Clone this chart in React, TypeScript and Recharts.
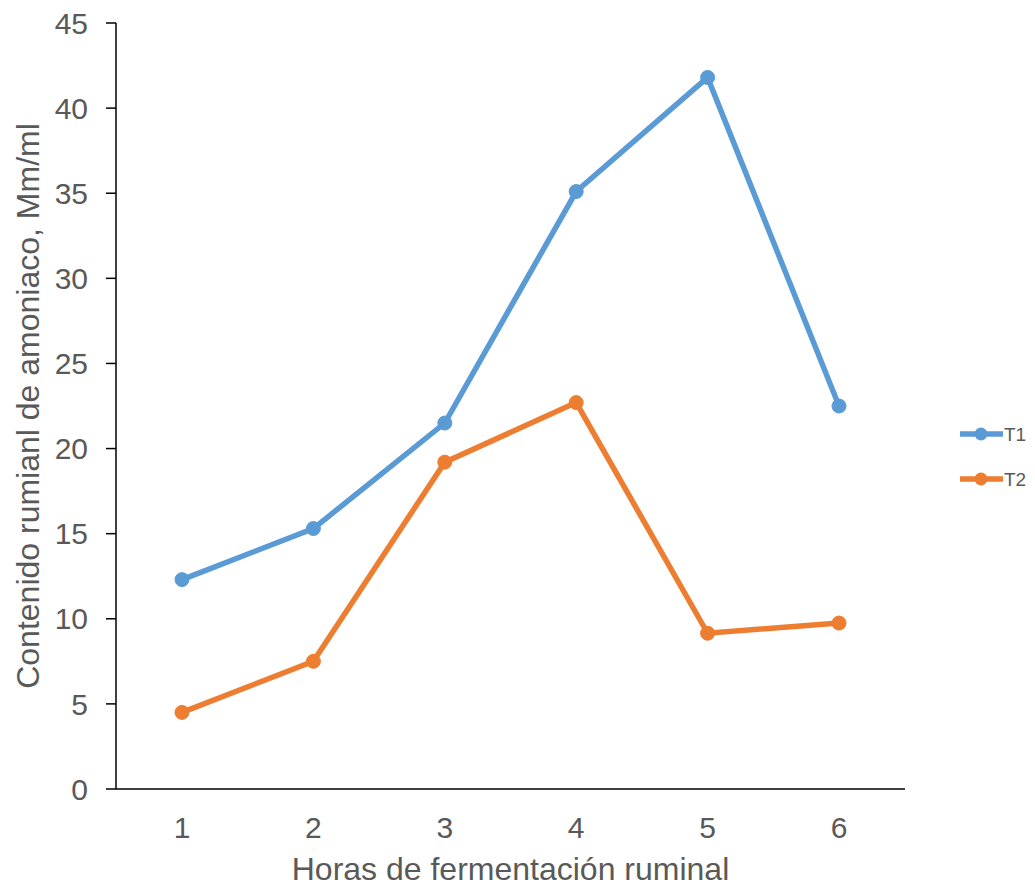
import { Line, LineChart, XAxis, YAxis } from "recharts";

const HORAS = ["1", "2", "3", "4", "5", "6"];
const T1 = [12.3, 15.3, 21.5, 35.1, 41.8, 22.5];
const T2 = [4.5, 7.5, 19.2, 22.7, 9.15, 9.75];
const Y_TICKS = [0, 5, 10, 15, 20, 25, 30, 35, 40, 45];

const BLUE = "#5B9BD5";
const ORANGE = "#ED7D31";
const TEXT = "#595959";
const FONT = "'Liberation Sans', Arial, sans-serif";

const data = HORAS.map((h, i) => ({ hora: h, T1: T1[i], T2: T2[i] }));

const SERIES = [
  { key: "T1", color: BLUE },
  { key: "T2", color: ORANGE },
];

function LegendBox() {
  return (
    <svg width={84} height={70} style={{ position: "absolute", left: 952, top: 414 }}>
      {SERIES.map((s, i) => (
        <g key={s.key} transform={`translate(0, ${12 + i * 45})`}>
          <line x1={0} x2={43} y1={0} y2={0} stroke={s.color} strokeWidth={5.5} />
          <circle cx={21} cy={0} r={6.5} fill={s.color} />
          <text x={44} y={7} fontSize={19} fill={TEXT} fontFamily={FONT}>
            {s.key}
          </text>
        </g>
      ))}
    </svg>
  );
}

type VB = { x: number; y: number; width: number; height: number };

function YTitle({ viewBox }: { viewBox?: VB }) {
  if (!viewBox) return null;
  const cx = viewBox.x + 20;
  const cy = viewBox.y + viewBox.height / 2;
  return (
    <text
      x={cx}
      y={cy}
      transform={`rotate(-90, ${cx}, ${cy})`}
      textAnchor="middle"
      dominantBaseline="central"
      fontSize={32}
      fill={TEXT}
      fontFamily={FONT}
    >
      Contenido rumianl de amoniaco, Mm/ml
    </text>
  );
}

function XTitle({ viewBox }: { viewBox?: VB }) {
  if (!viewBox) return null;
  return (
    <text
      x={viewBox.x + viewBox.width / 2}
      y={viewBox.y + viewBox.height - 8}
      textAnchor="middle"
      fontSize={32}
      fill={TEXT}
      fontFamily={FONT}
    >
      Horas de fermentación ruminal
    </text>
  );
}

export default function App() {
  return (
    <div style={{ position: "relative", fontFamily: FONT }}>
      <LineChart
        width={1027}
        height={880}
        data={data}
        margin={{ top: 15, right: 130, bottom: 0, left: 0 }}
      >
        <XAxis
          dataKey="hora"
          padding={{ left: 66, right: 66 }}
          tickLine={false}
          tickSize={0}
          tickMargin={28}
          height={99}
          axisLine={{ stroke: "#000", strokeWidth: 1.5 }}
          tick={{ fill: TEXT, fontSize: 30, fontFamily: FONT }}
          label={(p: any) => <XTitle viewBox={p.viewBox} />}
        />
        <YAxis
          width={108}
          domain={[0, 45]}
          ticks={Y_TICKS}
          interval={0}
          tickSize={10}
          tickMargin={18}
          axisLine={{ stroke: "#000", strokeWidth: 1.5 }}
          tickLine={{ stroke: "#000", strokeWidth: 1.5 }}
          tick={{ fill: TEXT, fontSize: 30, fontFamily: FONT }}
          label={(p: any) => <YTitle viewBox={p.viewBox} />}
        />
        {SERIES.map((s) => (
          <Line
            key={s.key}
            dataKey={s.key}
            stroke={s.color}
            strokeWidth={5.5}
            dot={{ r: 7, fill: s.color, stroke: s.color, strokeWidth: 1 }}
            activeDot={false}
            isAnimationActive={false}
          />
        ))}
      </LineChart>
      <LegendBox />
    </div>
  );
}
